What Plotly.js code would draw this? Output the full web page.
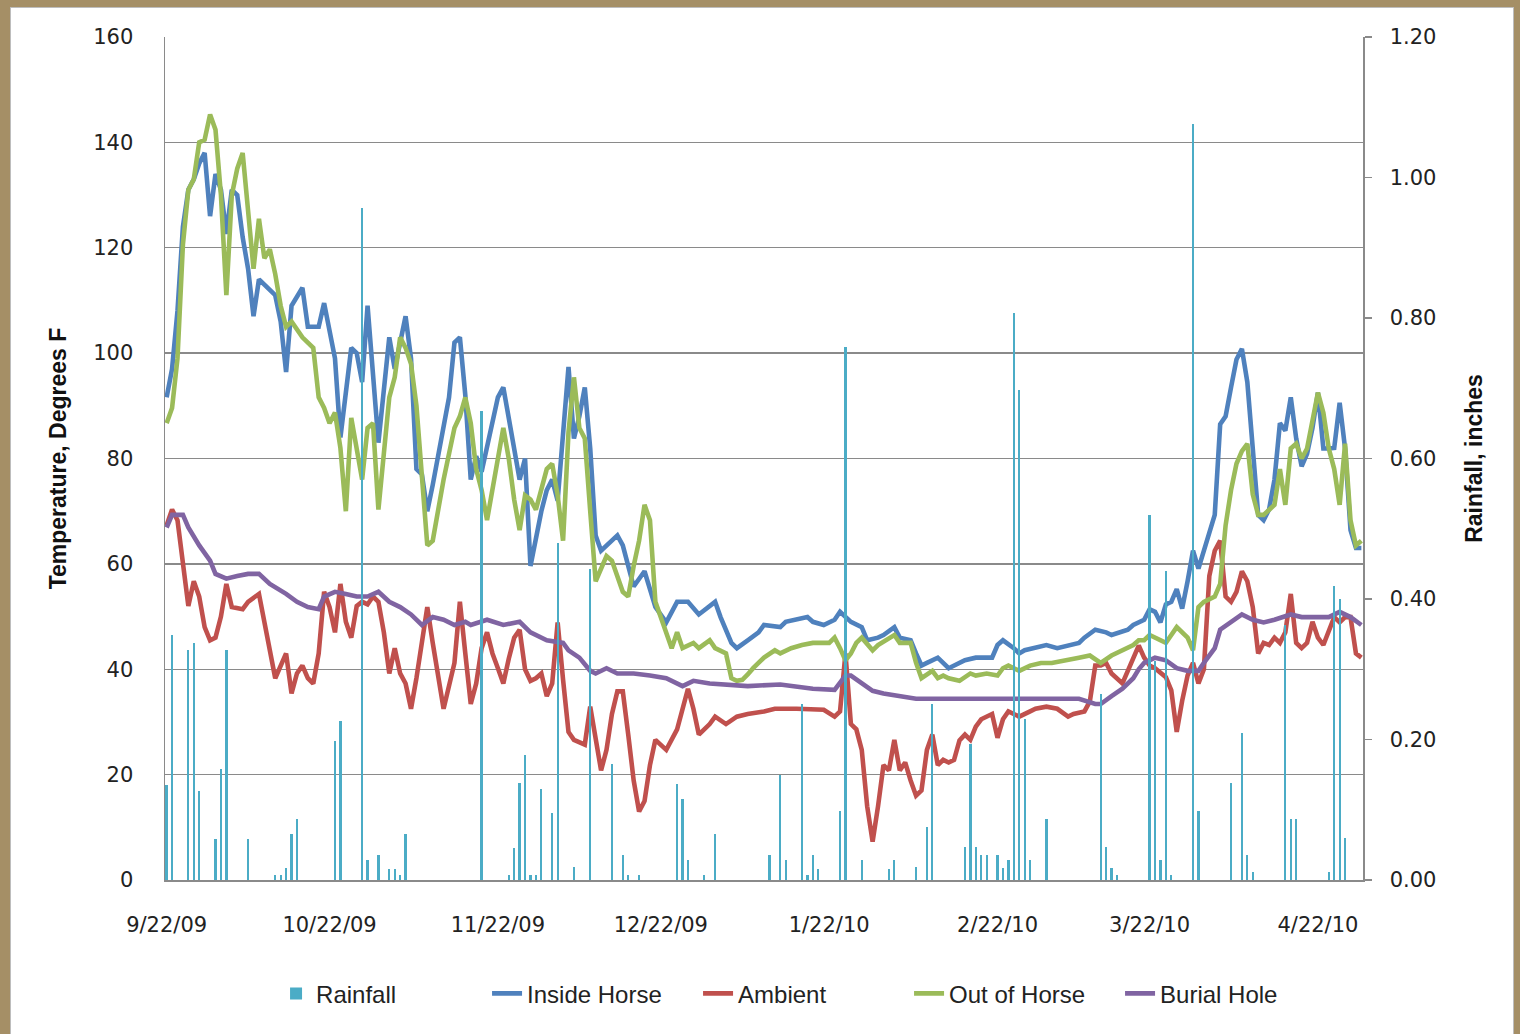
<!DOCTYPE html>
<html>
<head>
<meta charset="utf-8">
<script src="https://cdn.plot.ly/plotly-3.0.1.min.js"></script>
<style>
  html, body { margin: 0; padding: 0; width: 1520px; height: 1034px; overflow: hidden; background: #a58f66; }
  #frame { position: absolute; left: 10px; top: 7px; width: 1502px; height: 1027px; background: #ffffff; border-left: 1px solid #bdbdbd; border-top: 1px solid #bdbdbd; border-right: 1px solid #bdbdbd; }
  #chart { position: absolute; left: 0; top: 0; width: 1502px; height: 1027px; }
</style>
</head>
<body>
<div id="frame"><div id="chart"></div></div>
<script>
// ---------- DATA (days counted from 9/22/09) ----------
const startDate = '2009-09-22';

const tickDates = ['2009-09-22','2009-10-22','2009-11-22','2009-12-22','2010-01-22','2010-02-22','2010-03-22','2010-04-22'];
const tickLabels = ['9/22/09','10/22/09','11/22/09','12/22/09','1/22/10','2/22/10','3/22/10','4/22/10'];

const rainDays = [0,1,4,5,6,9,10,11,15,20,21,22,23,24,31,32,36,37,39,41,42,43,44,58,63,64,65,66,67,68,69,71,72,75,78,82,84,85,87,94,95,96,99,101,111,113,114,117,118,119,120,124,125,128,133,134,138,140,141,147,148,149,150,151,153,154,155,156,157,158,159,162,172,173,174,175,181,182,183,184,185,189,190,196,198,199,200,206,207,208,214,215,216,217];
const rainInches = [0.135,0.349,0.327,0.337,0.127,0.058,0.158,0.327,0.058,0.007,0.007,0.017,0.065,0.087,0.198,0.227,0.957,0.029,0.036,0.016,0.016,0.007,0.065,0.668,0.007,0.045,0.138,0.178,0.007,0.007,0.129,0.096,0.48,0.018,0.443,0.165,0.036,0.007,0.007,0.136,0.116,0.029,0.007,0.065,0.036,0.149,0.029,0.251,0.007,0.036,0.015,0.098,0.759,0.029,0.015,0.029,0.018,0.076,0.251,0.047,0.193,0.047,0.036,0.036,0.036,0.017,0.029,0.807,0.698,0.229,0.029,0.087,0.265,0.047,0.017,0.007,0.52,0.312,0.029,0.44,0.007,1.076,0.098,0.138,0.209,0.036,0.011,0.363,0.087,0.087,0.011,0.418,0.40,0.06];

const insideDays = [0,1,2,3,4,5,6,7,8,9,10,11,12,13,14,15,16,17,18,20,21,22,23,25,26,28,29,31,32,34,35,36,37,39,41,42,44,45,46,47,48,49,52,53,54,55,56,57,58,61,62,64,65,66,67,69,70,71,72,74,75,76,77,78,79,80,83,84,86,88,90,92,94,96,98,101,102,104,105,107,109,110,113,114,116,118,119,121,123,124,126,128,129,131,132,134,135,137,138,139,140,142,144,147,149,152,153,154,156,157,158,160,162,164,166,168,169,171,173,174,177,178,180,181,182,183,184,185,186,187,188,189,190,191,192,193,194,195,196,197,198,199,200,201,202,203,204,205,206,207,208,209,210,211,212,213,214,215,216,217,218,219,220];
const insideTemp = [91.6,97,108,124,131,133,136,138,126,134,131,122.6,131,130,122,116,107,114,113,111,106,96.4,109,112.4,105,105,109.5,99,84,101,100,94.5,109,83,103,97,107,99,78,77,70,75,91.6,102,103,92,76,80.4,77.5,91.6,93.5,82,76,80,59.6,70,74,76,72,97.4,83.8,88,93.5,81.9,65.4,62.5,65.4,63.5,55.7,58.6,51.8,48.9,52.8,52.8,50.4,52.8,49.9,45,44,45.5,47,48.4,48,49,49.4,49.9,49,48.4,49.4,50.9,49,48,45.5,46,46.5,48,46,45.5,43,40.7,41.2,42.2,40.2,41.7,42.2,42.2,44.6,45.5,44,43,43.6,44,44.6,44,44.6,45,46,47.5,47,46.5,47.5,48.4,49.4,51.4,50.9,48.9,52.3,52.8,55.2,51.5,56.7,62.5,59.1,62.5,65.4,69.3,86.5,88,93.5,98.8,100.8,94.5,81.9,69.3,68.3,70.3,76,86.7,85.3,91.6,83.8,78.5,80.9,85.8,92.5,81.9,81.9,82,90.6,81.9,66.4,63,63];

const ambientDays = [0,1,2,3,4,5,6,7,8,9,10,11,12,14,15,17,18,20,22,23,24,25,26,27,28,29,30,31,32,33,34,35,36,37,38,39,40,41,42,43,44,45,46,48,49,50,51,53,54,55,56,57,58,59,60,61,62,63,64,65,66,67,68,69,70,71,72,73,74,75,77,78,79,80,81,82,83,84,85,86,87,88,89,90,92,94,96,97,98,100,101,103,105,107,110,112,116,121,123,124,125,126,127,128,129,130,131,132,133,134,135,136,137,138,139,140,141,142,143,144,145,146,147,148,149,150,152,153,154,155,156,157,159,160,162,164,166,167,169,170,171,172,173,174,176,177,178,179,180,181,182,183,184,185,186,187,188,189,190,191,192,193,194,195,196,197,198,199,200,201,202,203,204,205,206,207,208,209,210,211,212,213,214,215,216,217,218,219,220];
const ambientTemp = [67.3,70.3,68.3,60,52,56.7,53.8,48,45.5,46,50,56.2,51.8,51.4,52.8,54.3,49,38.3,43,35.4,39.2,40.7,38.3,37.3,43,54.7,51.8,47,56.2,49,46,52,52.8,52.3,53.8,52.8,47,39.2,44,39.2,37.3,32.5,38.3,51.8,45,38.3,32.5,41.2,52.8,43,33.4,37.3,44,47,43,40.2,37.3,42,46,47.5,40,37.8,38.3,39.2,34.9,37.3,48.9,38,28.1,26.6,25.7,32.9,26.6,20.8,24.7,31.5,35.8,35.8,27.6,18.9,13,15,21.8,26.6,24.7,28.6,36.3,32.5,27.6,29.6,31,29.6,31,31.5,32,32.5,32.5,32.3,31,32,43,29.6,28.6,24.7,14,7.3,14,21.8,20.8,26.6,20.8,22.3,18.9,16,17,24.7,27.6,21.8,22.8,22.3,22.8,26.5,27.6,26.6,29.1,30.5,31.5,27,30.5,32,31.5,31,32,32.5,32.9,32.5,31,31.5,32,33.9,40.7,40.7,41.2,39.2,37.3,39.7,42.2,44.5,42.2,40.7,40.2,39.2,38.5,36,28.1,34,38.8,41.2,37.3,40,57.7,62.5,64.4,53.8,52.8,54.7,58.6,56.7,51.8,43,45,44.6,46,45,47,54.3,45,44,45,49,46,44.6,47,49.9,48.9,49.9,49.9,43,42.2,42.6];

const outDays = [0,1,2,3,4,5,6,7,8,9,10,11,12,13,14,15,16,17,18,19,20,21,22,23,25,26,27,28,29,30,31,32,33,34,35,36,37,38,39,41,42,43,44,45,46,47,48,49,51,53,54,55,56,57,58,59,61,62,63,64,65,66,67,68,70,71,72,73,74,75,76,77,78,79,81,82,84,85,86,87,88,89,90,92,93,94,95,97,98,100,101,103,104,105,106,107,108,110,112,113,115,117,119,122,123,124,125,126,127,128,130,131,134,135,137,138,139,141,142,143,144,146,148,149,151,153,154,155,157,159,161,163,166,168,170,172,174,176,178,179,180,181,183,184,185,186,188,189,190,191,193,194,195,196,197,198,199,200,201,202,204,205,206,207,208,209,210,212,213,214,215,216,217,218,219,220];
const outTemp = [86.7,89.6,99,120.6,131,133,140,140.5,145.3,142.4,130,111,130,135,138,128,116,125.5,118,119.7,115,109,105,106,103,102,101,91.6,89.6,86.7,88.7,82,70,87.7,82,76,85.8,86.7,70.3,91.6,95.4,103,101,98,90,76,63.5,64.4,76,85.8,88,91.6,86.7,78,74,68.3,80,85.8,80,72.2,66.4,73,72.2,70.3,78,79,73,64.4,85,95.4,85.8,83.8,70,56.7,61.5,60.6,54.7,53.8,59.6,64.4,71.2,68.3,52.8,47,44,47,44,45,44,45.5,44,43,38.3,37.8,38,39,40.2,42.2,43.6,43,44,44.6,45,45,46,44,41.7,43,45,46,43.6,44.6,46.5,45,45,41.2,38.3,39.7,38.3,38.8,38.3,37.8,39.2,38.8,39.2,38.8,40.2,40.7,39.7,40.7,41.2,41.2,41.7,42.2,42.6,41.2,42.6,43.6,44.6,45.5,45.5,46.5,45.5,45,46.5,48,46,43.6,51.8,52.8,53.8,56.2,67.3,74,79,81.4,82.8,73.2,69.3,69.3,71.2,78,71.2,81.9,82.8,80,81.9,92.5,88.7,81.9,78,71.2,82.8,68.3,63.5,64.4];

const burialDays = [0,1,3,4,6,8,9,11,13,15,17,19,22,24,26,28,29,31,33,35,37,38,39,41,43,45,47,49,51,53,55,56,59,62,65,67,70,73,74,76,78,79,81,83,86,89,92,95,97,100,104,107,113,119,123,125,126,128,130,132,135,138,141,143,149,155,161,166,168,171,172,174,176,178,179,180,182,184,186,188,190,191,193,194,196,198,200,202,204,207,209,212,214,216,218,220];
const burialTemp = [66.9,69.3,69.3,66.9,63.5,60.6,58.1,57.2,57.7,58.1,58.1,56.2,54.3,52.8,51.8,51.4,53.8,54.7,54.3,53.8,53.8,54.3,54.7,52.8,51.8,50.4,48.4,49.9,49.4,48.4,49,48.4,49.4,48.4,49,47,45.5,45,43.6,42.2,39.7,39.2,40.2,39.2,39.2,38.8,38.3,36.8,37.8,37.3,37.1,36.8,37.1,36.3,36.1,38.8,38.8,37.3,35.9,35.4,34.9,34.4,34.4,34.4,34.4,34.6,34.6,34.6,34.4,33.4,33.4,34.9,36.3,38.3,40,41.2,42.2,41.7,40.2,39.7,39.7,41.2,44,47.5,48.9,50.4,49.4,48.9,49.4,50.4,49.9,49.9,49.9,50.9,49.9,48.4];

// ---------- helpers ----------
const base = new Date(startDate + 'T00:00:00Z').getTime();
function pad(n) { return (n < 10 ? '0' : '') + n; }
function dayToDate(d) {
  const t = new Date(base + d * 86400000);
  return t.getUTCFullYear() + '-' + pad(t.getUTCMonth() + 1) + '-' + pad(t.getUTCDate()) + ' ' + pad(t.getUTCHours()) + ':' + pad(t.getUTCMinutes());
}

const lineW = 4.6;
const traces = [
  { type: 'bar', name: 'Rainfall', x: rainDays.map(dayToDate), y: rainInches, yaxis: 'y2',
    width: 0.42 * 86400000, marker: { color: '#4BACC6', line: { width: 0 } } },
  { type: 'scatter', mode: 'lines', name: 'Inside Horse', x: insideDays.map(dayToDate), y: insideTemp,
    line: { color: '#4F81BD', width: lineW } },
  { type: 'scatter', mode: 'lines', name: 'Ambient', x: ambientDays.map(dayToDate), y: ambientTemp,
    line: { color: '#C0504D', width: lineW } },
  { type: 'scatter', mode: 'lines', name: 'Out of Horse', x: outDays.map(dayToDate), y: outTemp,
    line: { color: '#9BBB59', width: lineW } },
  { type: 'scatter', mode: 'lines', name: 'Burial Hole', x: burialDays.map(dayToDate), y: burialTemp,
    line: { color: '#8064A2', width: lineW } }
];

const gridCol = '#8a8a8a';
const tickFont = { family: 'DejaVu Sans, Verdana, sans-serif', size: 21, color: '#222222' };
const titleFont = { family: 'Liberation Sans, Arial, sans-serif', size: 23, color: '#111111', weight: 'bold' };

const layout = {
  width: 1502, height: 1027,
  margin: { l: 154, r: 150, t: 29, b: 155 },
  paper_bgcolor: '#ffffff', plot_bgcolor: '#ffffff',
  showlegend: true,
  legend: { orientation: 'h', x: 0.0927, xanchor: 'left', y: -0.135, yanchor: 'middle',
            font: { family: 'Liberation Sans, Arial, sans-serif', size: 24, color: '#222222' },
            entrywidth: 166, entrywidthmode: 'pixels', traceorder: 'normal' },
  bargap: 0,
  xaxis: {
    type: 'date', range: [dayToDate(-0.3), dayToDate(220.3)],
    tickmode: 'array', tickvals: tickDates, ticktext: tickLabels,
    showgrid: false, zeroline: false, showline: true, linecolor: gridCol, linewidth: 1.5,
    ticks: '', tickfont: tickFont, ticklabelstandoff: 25
  },
  yaxis: {
    range: [0, 160], dtick: 20, tick0: 0,
    showgrid: true, gridcolor: gridCol, gridwidth: 1.3, zeroline: false,
    showline: true, linecolor: gridCol, linewidth: 1.5, ticks: '',
    tickfont: tickFont, ticklabelstandoff: 26,
    title: { text: 'Temperature, Degrees F', font: titleFont, standoff: 20 }
  },
  yaxis2: {
    range: [0, 1.2], dtick: 0.2, tick0: 0, tickformat: '.2f',
    overlaying: 'y', side: 'right', showgrid: false, zeroline: false,
    showline: true, linecolor: gridCol, linewidth: 1.5,
    ticks: 'outside', ticklen: 7, tickcolor: gridCol, tickwidth: 1.5,
    tickfont: tickFont, ticklabelstandoff: 14,
    title: { text: 'Rainfall, inches', font: titleFont, standoff: 30 }
  }
};

Plotly.newPlot('chart', traces, layout, { staticPlot: true, displayModeBar: false });
</script>
</body>
</html>
